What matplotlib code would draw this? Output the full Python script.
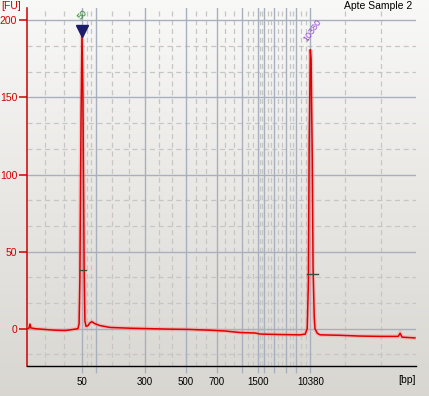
import numpy as np
import matplotlib
matplotlib.use('Agg')
import matplotlib.pyplot as plt

# ladder peaks (bp) and their migration times (s)
ladder_bp = [50, 100, 300, 500, 700, 1000, 1500, 2000, 3000, 5000, 7000, 10380]
ladder_time = [34.2, 37.7, 50.4, 60.8, 68.8, 75.4, 79.5, 81.1, 83.6, 86.7, 89.3, 92.9]
shown_labels = ['50', '', '300', '500', '700', '', '1500', '', '', '', '', '10380']

# electropherogram trace
trace_time = [20.0, 20.5, 20.77, 21.0, 22.1, 24.6, 27.2, 29.8, 31.6, 33.1, 33.4, 33.6,
              33.9, 34.15, 34.4, 34.7, 34.9, 35.2, 35.7, 36.2, 36.7, 37.5, 38.8, 41.4,
              46.5, 51.6, 56.8, 61.9, 67.1, 70.9, 74.8, 78.7, 80.0, 85.1, 90.3, 91.6,
              92.1, 92.4, 92.6, 92.9, 93.1, 93.4, 93.6, 93.9, 94.1, 94.7, 95.4, 100.6,
              105.7, 110.8, 115.5, 116.0, 116.5, 119.8]
trace_fu = [0.0, 0.3, 3.0, 0.5, 0.0, -0.5, -1.0, -1.2, -0.6, 0.0, 3.0, 30.0,
            135.0, 192.0, 150.0, 40.0, 5.0, 1.5, 2.0, 3.8, 4.5, 3.2, 2.0, 0.8,
            0.3, 0.0, -0.3, -0.5, -1.0, -1.5, -2.5, -2.8, -3.5, -3.8, -4.0, -3.5,
            0.0, 30.0, 120.0, 181.0, 175.0, 110.0, 40.0, 8.0, 0.0, -3.0, -4.0, -4.3,
            -4.8, -5.0, -5.0, -3.0, -5.5, -6.0]

# called peaks
peak_time = [34.15, 92.9]
peak_label = ['50', '10380']
peak_height = [192.0, 181.0]
half_height = [37.9, 35.3]
half_from = [33.6, 92.1]
half_to = [35.3, 94.8]

fig = plt.figure(figsize=(4.29, 3.96), dpi=100)

# background gradient over whole figure
bg = fig.add_axes([0, 0, 1, 1], zorder=-10)
grad = np.linspace(0, 1, 256).reshape(-1, 1)
top_c = np.array([0.975, 0.975, 0.97])
bot_c = np.array([0.85, 0.84, 0.82])
img = top_c + (bot_c - top_c) * grad[:, :, None]
bg.imshow(img, aspect='auto', extent=[0, 1, 0, 1])
bg.axis('off')

ax = fig.add_axes([0.0629, 0.0758, 0.906, 0.904])
ax.patch.set_alpha(0)
ax.set_xlim(20, 120)
ax.set_ylim(-24.2, 208)

# grid: solid at ladder / 50 FU, dashed at thirds in between
bounds = [20] + ladder_time + [120]
for a, b in zip(bounds[:-1], bounds[1:]):
    for f in (1/3, 2/3):
        ax.axvline(a + (b - a) * f, color='#c6c6c6', lw=0.9, ls=(0, (4, 3)), zorder=1)
for v in ladder_time:
    ax.axvline(v, color='#a9b0bd', lw=1.0, zorder=2)
for h in np.arange(-50/3, 208, 50/3):
    if abs(h / 50 - round(h / 50)) > 0.01:
        ax.axhline(h, color='#c6c6c6', lw=0.9, ls=(0, (4, 3)), zorder=1)
for h in [0, 50, 100, 150, 200]:
    ax.axhline(h, color='#a9b0bd', lw=1.0, zorder=2)

# trace with pink halo
ax.plot(trace_time, trace_fu, color='#ff8080', lw=3, alpha=0.35, zorder=3, solid_joinstyle='miter')
ax.plot(trace_time, trace_fu, color='#e00000', lw=1.1, zorder=4)

# half-height markers
for h, a, b in zip(half_height, half_from, half_to):
    ax.plot([a, b], [h, h], color='#3c4a40', lw=1.0, zorder=5)

# marker triangle and peak labels
ax.plot(peak_time[0], 193, marker='v', color='#1c1c6a', ms=8, zorder=6, clip_on=False)
ax.text(peak_time[0], 199, peak_label[0], color='#208020', fontsize=6.5, rotation=45,
        ha='center', va='bottom', family='Liberation Sans')
ax.text(peak_time[1] - 0.3, peak_height[1] + 4, peak_label[1], color='#9040d0', fontsize=6.5,
        rotation=55, ha='left', va='bottom', rotation_mode='anchor', family='Liberation Sans')

# spines
for s in ['top', 'right']:
    ax.spines[s].set_visible(False)
ax.spines['left'].set_color('#d00000')
ax.spines['left'].set_linewidth(1.1)
ax.spines['bottom'].set_color('black')
ax.spines['bottom'].set_linewidth(1.0)

ax.set_yticks([0, 50, 100, 150, 200])
ax.set_yticklabels(['0', '50', '100', '150', '200'])
ax.tick_params(axis='y', colors='#d00000', length=6, width=1.1, labelsize=7.5, pad=1,
               labelcolor='#d00000')
ax.set_xticks(ladder_time)
ax.set_xticklabels(shown_labels)
ax.tick_params(axis='x', color='#a9b0bd', length=5, width=1.0, labelsize=7, pad=3)
for lb in ax.get_xticklabels() + ax.get_yticklabels():
    lb.set_family('Liberation Sans')

fig.text(0.002, 0.985, '[FU]', color='#d00000', fontsize=7.5, va='center', ha='left',
         family='Liberation Sans')
fig.text(0.97, 0.04, '[bp]', color='black', fontsize=7.5, va='center', ha='right',
         family='Liberation Sans')
fig.text(0.96, 0.985, 'Apte Sample 2', color='black', fontsize=7.5, va='center', ha='right',
         family='Liberation Sans')

plt.savefig('out.png', dpi=100)
